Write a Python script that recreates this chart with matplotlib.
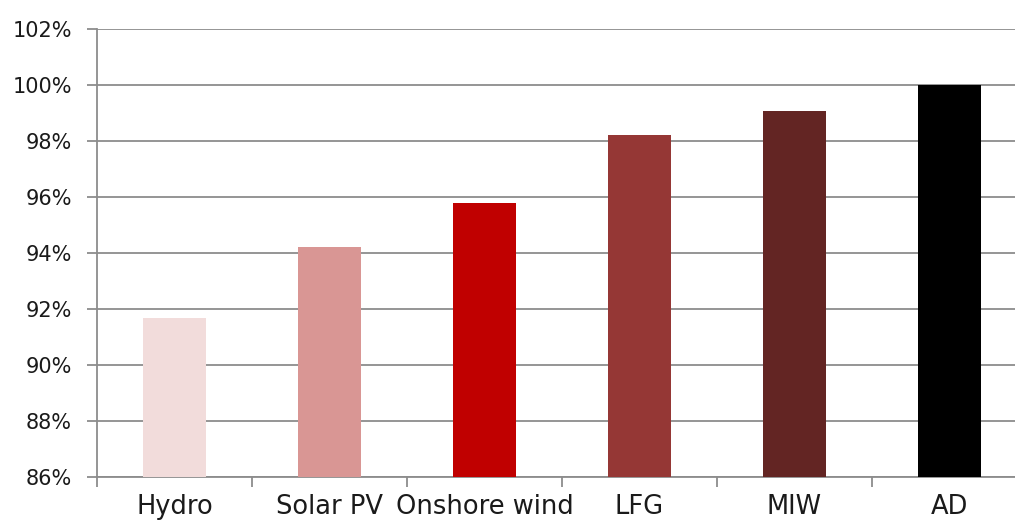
import numpy as np
import matplotlib
matplotlib.use("Agg")
import matplotlib.pyplot as plt
from matplotlib.ticker import FuncFormatter, MultipleLocator

# Load factor relative to AD, by technology
technologies = ["Hydro", "Solar PV", "Onshore wind", "LFG", "MIW", "AD"]
values = [91.68, 94.21, 95.79, 98.21, 99.07, 100.0]
bar_colors = ["#F2DCDB", "#D99694", "#C00000", "#953735", "#632523", "#000000"]

plt.rcParams["font.family"] = ["DejaVu Sans"]

fig = plt.figure(figsize=(10.15, 5.22), dpi=100)
# axes run past the right edge of the canvas
ax = fig.add_axes([97 / 1015, 45 / 522, 930 / 1015, 448 / 522])

x = np.arange(len(technologies))
ax.bar(x, values, width=0.41, color=bar_colors, zorder=3)

grid_col = "#8C8C8C"
ax.set_ylim(86, 102)
ax.set_xlim(-0.5, len(technologies) - 0.5)
ax.yaxis.set_major_locator(MultipleLocator(2))
ax.yaxis.set_major_formatter(FuncFormatter(lambda v, _: f"{v:.0f}%"))
ax.grid(axis="y", color=grid_col, linewidth=1.3, zorder=0)

ax.set_xticks(x)
ax.set_xticklabels(technologies, color="#1a1a1a")
ax.set_xticks(np.arange(-0.5, len(technologies), 1), minor=True)
ax.tick_params(axis="x", which="major", length=0, pad=12.5, labelsize=18.5)
ax.tick_params(axis="x", which="minor", length=7, width=1.3, color=grid_col)
ax.tick_params(axis="y", length=7, width=1.3, color=grid_col, pad=11, labelsize=15,
               labelcolor="#1a1a1a")

for side in ["top", "right"]:
    ax.spines[side].set_visible(False)
for side in ["left", "bottom"]:
    ax.spines[side].set_color(grid_col)
    ax.spines[side].set_linewidth(1.3)

fig.savefig("out.png", dpi=100)
